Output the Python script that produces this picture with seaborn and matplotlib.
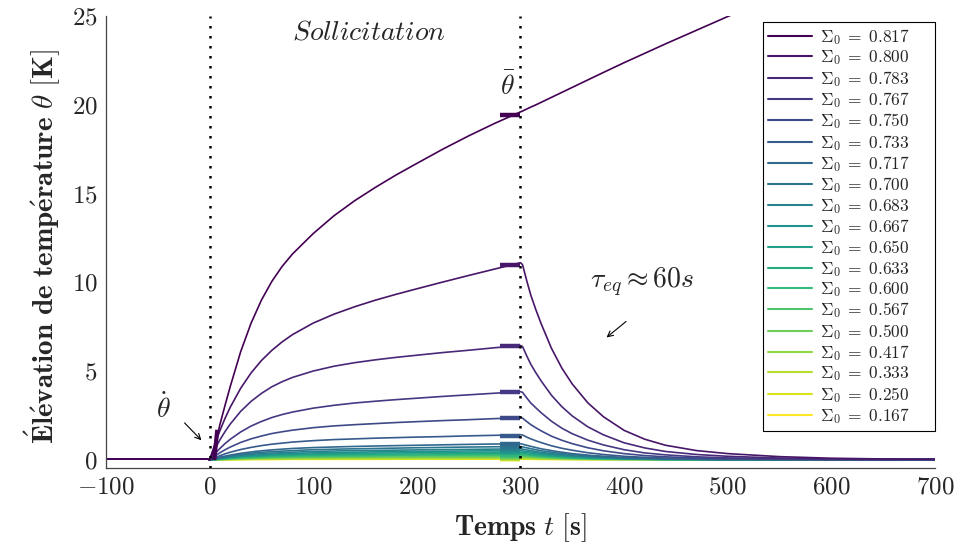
import matplotlib
matplotlib.use('Agg')
import matplotlib.pyplot as plt
import numpy as np
import pandas as pd
import seaborn as sns

# temps (s): grille fine pour les grandes courbes, grille grossière pour les petites
t_fine = [-100, -1, 0, 5, 10, 15, 20, 30, 40, 50, 60, 70, 80, 100, 120, 140, 160, 180, 200, 225, 250,
          275, 300, 302, 306, 310, 315, 320, 330, 340, 350, 365, 380, 400, 420, 440, 470, 500, 550,
          600, 650, 700]
t_coarse = [-100, -1, 0, 5, 10, 20, 30, 45, 60, 80, 100, 130, 160, 200, 250, 300,
            310, 320, 335, 350, 370, 400, 440, 490, 550, 620, 700]

sigma0 = ['0.817', '0.800', '0.783', '0.767', '0.750', '0.733', '0.717', '0.700', '0.683', '0.667',
          '0.650', '0.633', '0.600', '0.567', '0.500', '0.417', '0.333', '0.250', '0.167']

# élévation de température (K)
th_817 = [0.05, 0.05, 0.0, 0.75, 2.0, 3.1, 4.15, 6.1, 7.7, 9.0, 10.05, 10.9, 11.6, 12.75, 13.75, 14.6,
          15.35, 16.05, 16.7, 17.5, 18.25, 18.95, 19.6,
          19.65, 19.76, 19.87, 20.0, 20.14, 20.42, 20.7, 20.98, 21.4, 21.82, 22.37, 22.9, 23.43, 24.2,
          24.97, 26.2, 27.4, 28.6, 29.7]
th_800 = [0.05, 0.05, 0.0, 0.88, 1.66, 2.36, 2.98, 4.04, 4.90, 5.60, 6.17, 6.65, 7.06, 7.71, 8.21, 8.63,
          9.00, 9.33, 9.64, 10.02, 10.39, 10.75, 11.11,
          11.0, 10.11, 9.28, 8.44, 7.67, 6.28, 5.17, 4.28, 3.22, 2.44, 1.67, 1.17, 0.83, 0.53,
          0.36, 0.19, 0.10, 0.06, 0.04]
th_783 = [0.05, 0.05, 0.0, 0.60, 1.14, 1.61, 2.03, 2.74, 3.30, 3.75, 4.12, 4.41, 4.65, 5.01, 5.28, 5.48,
          5.64, 5.78, 5.90, 6.05, 6.18, 6.32, 6.45,
          6.39, 5.87, 5.39, 4.90, 4.45, 3.64, 3.00, 2.48, 1.87, 1.42, 0.97, 0.68, 0.48, 0.31,
          0.21, 0.11, 0.06, 0.03, 0.03]
th_767 = [0.05, 0.05, 0.0, 0.35, 0.65, 0.93, 1.17, 1.58, 1.91, 2.17, 2.39, 2.56, 2.70, 2.92, 3.08, 3.21,
          3.31, 3.40, 3.48, 3.58, 3.67, 3.76, 3.85,
          3.81, 3.50, 3.21, 2.93, 2.66, 2.18, 1.79, 1.48, 1.12, 0.85, 0.58, 0.40, 0.29, 0.18,
          0.12, 0.07, 0.03, 0.03, 0.03]
th_750 = [0.05, 0.05, 0.0, 0.22, 0.41, 0.58, 0.73, 0.99, 1.19, 1.35, 1.49, 1.59, 1.68, 1.82, 1.92, 1.99,
          2.05, 2.11, 2.16, 2.22, 2.27, 2.33, 2.38,
          2.36, 2.17, 1.99, 1.81, 1.64, 1.34, 1.11, 0.92, 0.69, 0.52, 0.36, 0.25, 0.18, 0.11,
          0.08, 0.04, 0.03, 0.03, 0.03]
th_733 = [0.05, 0.05, 0.0, 0.13, 0.24, 0.35, 0.44, 0.59, 0.71, 0.81, 0.89, 0.95, 1.01, 1.09, 1.15, 1.19,
          1.23, 1.26, 1.29, 1.32, 1.36, 1.39, 1.42,
          1.41, 1.29, 1.19, 1.08, 0.98, 0.80, 0.66, 0.55, 0.41, 0.31, 0.21, 0.15, 0.11, 0.07,
          0.05, 0.03, 0.03, 0.03, 0.03]
th_717 = [0.05, 0.05, 0.0, 0.08, 0.16, 0.28, 0.38, 0.49, 0.57, 0.65, 0.70, 0.75, 0.79, 0.83, 0.88, 0.92,
          0.77, 0.63, 0.48, 0.36, 0.25, 0.14, 0.07, 0.03, 0.03, 0.03, 0.03]
th_700 = [0.05, 0.05, 0.0, 0.07, 0.13, 0.23, 0.31, 0.41, 0.47, 0.53, 0.58, 0.62, 0.65, 0.69, 0.73, 0.76,
          0.64, 0.52, 0.40, 0.30, 0.21, 0.11, 0.06, 0.03, 0.03, 0.03, 0.03]
th_683 = [0.05, 0.05, 0.0, 0.06, 0.11, 0.19, 0.26, 0.34, 0.39, 0.44, 0.48, 0.52, 0.54, 0.57, 0.60, 0.63,
          0.53, 0.43, 0.33, 0.25, 0.17, 0.09, 0.05, 0.03, 0.03, 0.03, 0.03]
th_667 = [0.05, 0.05, 0.0, 0.05, 0.09, 0.16, 0.22, 0.28, 0.33, 0.37, 0.40, 0.43, 0.46, 0.48, 0.51, 0.53,
          0.45, 0.37, 0.28, 0.21, 0.14, 0.08, 0.04, 0.03, 0.03, 0.03, 0.03]
th_650 = [0.05, 0.05, 0.0, 0.04, 0.08, 0.14, 0.19, 0.24, 0.28, 0.32, 0.34, 0.37, 0.39, 0.41, 0.43, 0.45,
          0.38, 0.31, 0.23, 0.18, 0.12, 0.07, 0.03, 0.03, 0.03, 0.03, 0.03]
th_633 = [0.05, 0.05, 0.0, 0.03, 0.06, 0.12, 0.16, 0.20, 0.24, 0.27, 0.29, 0.31, 0.33, 0.34, 0.36, 0.38,
          0.32, 0.26, 0.20, 0.15, 0.10, 0.06, 0.03, 0.03, 0.03, 0.03, 0.03]
th_600 = [0.05, 0.05, 0.0, 0.03, 0.05, 0.09, 0.13, 0.17, 0.19, 0.22, 0.24, 0.25, 0.27, 0.28, 0.30, 0.31,
          0.26, 0.21, 0.16, 0.12, 0.08, 0.05, 0.03, 0.03, 0.03, 0.03, 0.03]
th_567 = [0.05, 0.05, 0.0, 0.02, 0.04, 0.08, 0.10, 0.13, 0.16, 0.18, 0.19, 0.20, 0.22, 0.23, 0.24, 0.25,
          0.21, 0.17, 0.13, 0.10, 0.07, 0.04, 0.03, 0.03, 0.03, 0.03, 0.03]
th_500 = [0.05, 0.05, 0.0, 0.02, 0.03, 0.06, 0.08, 0.10, 0.12, 0.13, 0.14, 0.16, 0.16, 0.17, 0.18, 0.19,
          0.16, 0.13, 0.10, 0.07, 0.05, 0.03, 0.03, 0.03, 0.03, 0.03, 0.03]
th_417 = [0.05, 0.05, 0.0, 0.01, 0.02, 0.04, 0.06, 0.08, 0.09, 0.10, 0.11, 0.12, 0.12, 0.13, 0.13, 0.14,
          0.12, 0.10, 0.07, 0.05, 0.04, 0.03, 0.03, 0.03, 0.03, 0.03, 0.03]
th_333 = [0.05, 0.05, 0.0, 0.01, 0.02, 0.03, 0.04, 0.05, 0.06, 0.07, 0.08, 0.08, 0.09, 0.09, 0.10, 0.10,
          0.08, 0.07, 0.05, 0.04, 0.03, 0.03, 0.03, 0.03, 0.03, 0.03, 0.03]
th_250 = [0.05, 0.05, 0.0, 0.01, 0.01, 0.02, 0.03, 0.04, 0.04, 0.05, 0.05, 0.06, 0.06, 0.06, 0.07, 0.07,
          0.06, 0.05, 0.04, 0.03, 0.03, 0.03, 0.03, 0.03, 0.03, 0.03, 0.03]
th_167 = [0.05, 0.05, 0.0, 0.0, 0.01, 0.02, 0.02, 0.03, 0.03, 0.04, 0.04, 0.04, 0.04, 0.05, 0.05, 0.05,
          0.04, 0.03, 0.03, 0.03, 0.03, 0.03, 0.03, 0.03, 0.03, 0.03, 0.03]

# moyenne theta_bar sur [280, 300] s
theta_bar = [19.45, 11.0, 6.4, 3.82, 2.35, 1.38, 0.90, 0.74, 0.61, 0.51, 0.43, 0.37, 0.30, 0.24,
             0.18, 0.13, 0.10, 0.07, 0.05]
bar_t = [280, 300]

# pente initiale (theta point)
slope_t = [4.5, 7.4]
slope_theta = [0.0, 1.7]

curves = [th_817, th_800, th_783, th_767, th_750, th_733, th_717, th_700, th_683, th_667,
          th_650, th_633, th_600, th_567, th_500, th_417, th_333, th_250, th_167]
labels = [r'$\Sigma_0\;=\;%s$' % s for s in sigma0]

sns.set_style('white')
plt.rcParams['font.family'] = ['cmr10', 'DejaVu Serif']
plt.rcParams['mathtext.fontset'] = 'cm'
plt.rcParams['axes.formatter.use_mathtext'] = True
plt.rcParams['axes.unicode_minus'] = True

colors = [tuple(c) for c in plt.cm.viridis(np.linspace(0, 1, len(sigma0)))]

fig = plt.figure(figsize=(9.59, 5.44), dpi=100)
ax = fig.add_axes([0.1105, 0.1397, 0.8644, 0.8309])

# on trace du plus petit au plus grand pour que les courbes foncées soient dessus
for i in reversed(range(len(curves))):
    tt = t_fine if len(curves[i]) == len(t_fine) else t_coarse
    d = pd.DataFrame({'t': tt, 'theta': curves[i]})
    sns.lineplot(data=d, x='t', y='theta', color=colors[i], lw=1.2, label=labels[i],
                 estimator=None, sort=False, ax=ax)

ax.hlines(theta_bar[::-1], bar_t[0], bar_t[1], colors=colors[::-1], lw=3.2, zorder=4)
ax.plot(slope_t, slope_theta, color=colors[0], lw=3, solid_capstyle='butt', zorder=4)

# lignes verticales pointillées
for xv in [0, 300]:
    ax.axvline(xv, color='black', lw=1.8, linestyle=(0, (1, 3)), zorder=5)

ax.set_xlim(-100, 700)
ax.set_ylim(-0.45, 25)
ax.set_xticks(range(-100, 701, 100))
ax.set_yticks(range(0, 26, 5))
ax.tick_params(direction='in', length=4, width=0.6, color='#555555', labelsize=18, pad=6)
for s in ['top', 'right']:
    ax.spines[s].set_visible(False)
for s in ['left', 'bottom']:
    ax.spines[s].set_color('#444444')
    ax.spines[s].set_linewidth(0.9)

ax.set_xlabel(r'$\mathbf{Temps}\ t\ \mathbf{[s]}$', fontsize=20)
ax.set_ylabel(r'$\mathbf{\acute{E}l\acute{e}vation\ de\ temp\acute{e}rature}\ \theta\ \mathbf{[K]}$',
              fontsize=21)
ax.xaxis.set_label_coords(0.5, -0.095)
ax.yaxis.set_label_coords(-0.077, 0.489)
ax.xaxis.label.set_va('top')
ax.yaxis.label.set_va('center')

# annotations
ax.text(154, 24.1, r'$\mathit{Sollicitation}$', fontsize=20, ha='center', va='center')
ax.text(288, 21.0, r'$\bar{\theta}$', fontsize=20, ha='center', va='center')
ax.text(-45, 2.9, r'$\dot{\theta}$', fontsize=20, ha='center', va='center')
ax.text(417, 10.0, r'$\tau_{eq} \approx 60s$', fontsize=20, ha='center', va='center')
ax.annotate('', xy=(-6, 1.0), xytext=(-26, 2.2),
            arrowprops=dict(arrowstyle='->', lw=0.8, color='black'))
ax.annotate('', xy=(381, 6.8), xytext=(404, 7.9),
            arrowprops=dict(arrowstyle='->', lw=0.8, color='black'))

handles, labs = ax.get_legend_handles_labels()
leg = ax.legend(handles[::-1], labs[::-1], loc='upper left', bbox_to_anchor=(0.7925, 0.0, 0.2075, 0.987),
                mode='expand', borderaxespad=0, fontsize=12.5, labelspacing=0.08, handlelength=2.5,
                handletextpad=0.46, fancybox=False, framealpha=1, edgecolor='black', borderpad=0.3)
leg.get_frame().set_linewidth(0.8)
for h in leg.get_lines():
    h.set_linewidth(1.5)

fig.savefig('out.png', dpi=100)
